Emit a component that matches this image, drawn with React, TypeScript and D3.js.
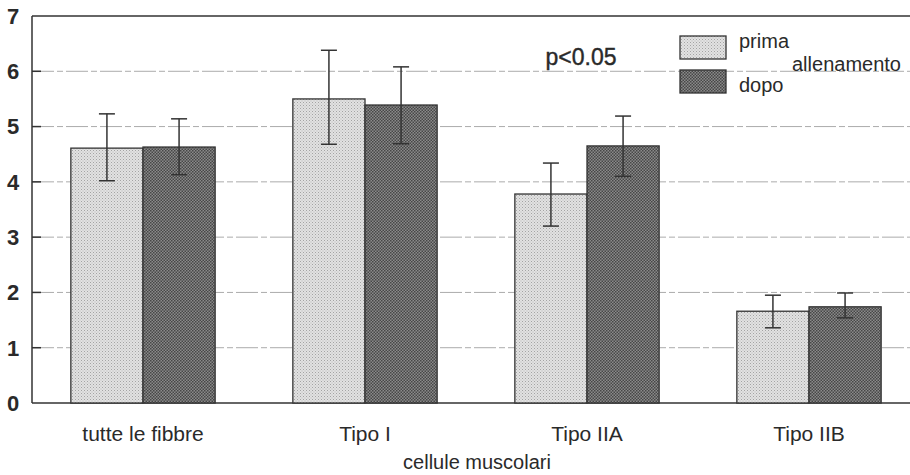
import { useEffect, useRef } from 'react'
import * as d3 from 'd3'

const categories = ['tutte le fibbre', 'Tipo I', 'Tipo IIA', 'Tipo IIB']
const series = ['prima', 'dopo']
const primaValues = [4.61, 5.5, 3.78, 1.66]
const primaErrHigh = [5.23, 6.38, 4.34, 1.95]
const primaErrLow = [4.02, 4.68, 3.2, 1.36]
const dopoValues = [4.63, 5.39, 4.65, 1.74]
const dopoErrHigh = [5.14, 6.08, 5.19, 1.99]
const dopoErrLow = [4.13, 4.69, 4.1, 1.54]
const yTicks = [0, 1, 2, 3, 4, 5, 6, 7]

const FONT = '"Liberation Sans", Arial, Helvetica, sans-serif'

export default function App() {
  const svgRef = useRef<SVGSVGElement>(null)

  useEffect(() => {
    if (!svgRef.current) return
    const svg = d3.select(svgRef.current)
    svg.selectAll('*').remove()

    const width = 910
    const height = 475
    const margin = { top: 16, right: -10, bottom: 72, left: 32 }
    const innerH = height - margin.top - margin.bottom

    svg.attr('width', width).attr('height', height)

    // stipple patterns for the two series
    const defs = svg.append('defs')
    const light = defs.append('pattern').attr('id', 'pat-prima')
      .attr('width', 3).attr('height', 3).attr('patternUnits', 'userSpaceOnUse')
    light.append('rect').attr('width', 3).attr('height', 3).attr('fill', '#e2e2e2')
    light.append('rect').attr('width', 1).attr('height', 1).attr('fill', '#a4a4a4')
    light.append('rect').attr('x', 1.5).attr('y', 1.5).attr('width', 1).attr('height', 1).attr('fill', '#b8b8b8')

    const dark = defs.append('pattern').attr('id', 'pat-dopo')
      .attr('width', 3).attr('height', 3).attr('patternUnits', 'userSpaceOnUse')
    dark.append('rect').attr('width', 3).attr('height', 3).attr('fill', '#8a8a8a')
    dark.append('rect').attr('width', 1.5).attr('height', 1.5).attr('fill', '#474747')
    dark.append('rect').attr('x', 1.5).attr('y', 1.5).attr('width', 1.5).attr('height', 1.5).attr('fill', '#474747')

    const x0 = d3.scaleBand<string>()
      .domain(categories)
      .range([margin.left, width - margin.right])
      .paddingInner(0.35)
      .paddingOuter(0.175)

    const x1 = d3.scaleBand<string>()
      .domain(series)
      .range([0, x0.bandwidth()])
      .padding(0)

    const y = d3.scaleLinear().domain([0, 7]).range([margin.top + innerH, margin.top])

    // grid
    svg.append('g').selectAll('line')
      .data(yTicks.filter(t => t > 0 && t < 7))
      .join('line')
      .attr('x1', margin.left).attr('x2', width)
      .attr('y1', d => y(d)).attr('y2', d => y(d))
      .attr('stroke', '#ababab').attr('stroke-width', 1)
      .attr('stroke-dasharray', '22,3,6,3')

    // tick marks
    svg.append('g').selectAll('line')
      .data(yTicks.filter(t => t > 0 && t < 7))
      .join('line')
      .attr('x1', margin.left).attr('x2', margin.left + 9)
      .attr('y1', d => y(d)).attr('y2', d => y(d))
      .attr('stroke', '#333').attr('stroke-width', 1.5)

    // frame
    svg.append('line').attr('x1', margin.left).attr('x2', width)
      .attr('y1', y(7)).attr('y2', y(7)).attr('stroke', '#333').attr('stroke-width', 1.5)
    svg.append('line').attr('x1', margin.left).attr('x2', width)
      .attr('y1', y(0)).attr('y2', y(0)).attr('stroke', '#333').attr('stroke-width', 1.5)
    svg.append('line').attr('x1', margin.left).attr('x2', margin.left)
      .attr('y1', y(7)).attr('y2', y(0)).attr('stroke', '#333').attr('stroke-width', 1.5)

    // y labels
    svg.append('g').selectAll('text')
      .data(yTicks)
      .join('text')
      .attr('x', 13).attr('y', d => y(d))
      .attr('dy', '0.36em')
      .attr('text-anchor', 'middle')
      .attr('font-family', FONT).attr('font-size', 22).attr('font-weight', 'bold')
      .attr('fill', '#2a2a2a')
      .text(d => String(d))

    const rows = categories.map((c, i) => [
      { cat: c, key: 'prima', v: primaValues[i], hi: primaErrHigh[i], lo: primaErrLow[i] },
      { cat: c, key: 'dopo', v: dopoValues[i], hi: dopoErrHigh[i], lo: dopoErrLow[i] },
    ]).flat()

    const bars = svg.append('g')
    bars.selectAll('rect')
      .data(rows)
      .join('rect')
      .attr('x', d => (x0(d.cat) ?? 0) + (x1(d.key) ?? 0))
      .attr('y', d => y(d.v))
      .attr('width', x1.bandwidth())
      .attr('height', d => y(0) - y(d.v))
      .attr('fill', d => `url(#pat-${d.key})`)
      .attr('stroke', '#333').attr('stroke-width', 1.3)

    // error bars
    const eb = svg.append('g').attr('stroke', '#333').attr('stroke-width', 1.5)
    rows.forEach(d => {
      const cx = (x0(d.cat) ?? 0) + (x1(d.key) ?? 0) + x1.bandwidth() / 2
      eb.append('line').attr('x1', cx).attr('x2', cx).attr('y1', y(d.hi)).attr('y2', y(d.lo))
      eb.append('line').attr('x1', cx - 8).attr('x2', cx + 8).attr('y1', y(d.hi)).attr('y2', y(d.hi))
      eb.append('line').attr('x1', cx - 8).attr('x2', cx + 8).attr('y1', y(d.lo)).attr('y2', y(d.lo))
    })

    // category labels
    svg.append('g').selectAll('text')
      .data(categories)
      .join('text')
      .attr('x', d => (x0(d) ?? 0) + x0.bandwidth() / 2)
      .attr('y', 441)
      .attr('text-anchor', 'middle')
      .attr('font-family', FONT).attr('font-size', 21)
      .attr('fill', '#2a2a2a')
      .text(d => d)

    svg.append('text')
      .attr('x', 477).attr('y', 469)
      .attr('text-anchor', 'middle')
      .attr('font-family', FONT).attr('font-size', 20)
      .attr('fill', '#2a2a2a')
      .text('cellule muscolari')

    svg.append('text')
      .attr('x', 581).attr('y', 65)
      .attr('text-anchor', 'middle')
      .attr('font-family', FONT).attr('font-size', 23)
      .attr('fill', '#2a2a2a')
      .attr('stroke', '#2a2a2a').attr('stroke-width', 0.4)
      .text('p<0.05')

    // legend
    const legend = svg.append('g')
    series.forEach((s, i) => {
      legend.append('rect')
        .attr('x', 680).attr('y', 36 + i * 34)
        .attr('width', 46).attr('height', 23)
        .attr('fill', `url(#pat-${s})`)
        .attr('stroke', '#333').attr('stroke-width', 1.3)
    })
    legend.append('text').attr('x', 739).attr('y', 48)
      .attr('font-family', FONT).attr('font-size', 20).attr('fill', '#2a2a2a').text('prima')
    legend.append('text').attr('x', 739).attr('y', 92)
      .attr('font-family', FONT).attr('font-size', 20).attr('fill', '#2a2a2a').text('dopo')
    legend.append('text').attr('x', 792).attr('y', 71)
      .attr('font-family', FONT).attr('font-size', 20).attr('fill', '#2a2a2a').text('allenamento')
  }, [])

  return (
    <div style={{ position: 'absolute', left: 0, top: 0, background: '#fff' }}>
      <svg ref={svgRef} style={{ display: 'block' }} />
    </div>
  )
}
